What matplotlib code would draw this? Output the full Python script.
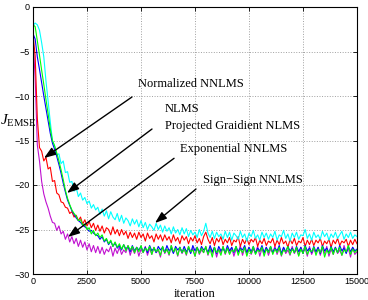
import matplotlib
matplotlib.use("Agg")
from matplotlib import pyplot as plt

# iteration grid, every 100 iterations
iters = list(range(0, 15001, 100))

# Sign-Sign NNLMS (cyan)
sign_sign = [
    -2.1, -1.8, -2.0, -2.6, -4.0, -5.6, -8.3, -10.6, -12.9, -15.0,
    -15.6, -16.6, -16.5, -17.6, -17.3, -18.6, -18.5, -19.7, -19.6, -20.7,
    -20.3, -21.3, -20.9, -21.7, -21.4, -22.1, -21.8, -22.6, -22.2, -22.8,
    -22.5, -23.3, -22.7, -23.5, -22.9, -23.8, -23.0, -23.6, -23.9, -23.2,
    -24.1, -23.4, -24.3, -23.7, -24.0, -24.6, -23.8, -24.4, -23.9, -24.7,
    -24.0, -24.8, -24.2, -25.0, -24.4, -24.7, -25.1, -24.3, -25.0, -24.5,
    -25.3, -24.6, -25.2, -24.8, -25.5, -24.7, -25.4, -25.0, -25.6, -24.8,
    -25.5, -24.9, -25.8, -25.1, -25.6, -25.3, -25.9, -25.0, -25.7, -25.2,
    -24.3, -25.4, -25.9, -25.2, -26.0, -25.3, -25.8, -25.5, -26.1, -25.2,
    -25.9, -25.3, -26.2, -25.4, -25.7, -26.1, -25.2, -25.9, -25.5, -26.3,
    -25.4, -25.8, -25.1, -26.0, -25.6, -26.2, -25.3, -25.9, -25.4, -26.1,
    -25.5, -25.9, -25.2, -26.2, -25.6, -25.8, -25.1, -26.0, -25.5, -26.3,
    -25.4, -25.9, -25.3, -26.1, -25.6, -25.7, -25.0, -26.0, -25.5, -26.2,
    -25.3, -25.9, -25.6, -26.1, -25.2, -25.8, -25.4, -26.2, -25.5, -25.9,
    -25.3, -26.0, -25.6, -25.2, -26.1, -25.5, -25.9, -25.3, -26.0, -25.6,
    -25.8]

# Normalized NNLMS (red)
normalized = [
    -3.0, -5.5, -12.5, -15.8, -16.2, -17.3, -16.9, -18.2, -18.0, -19.6,
    -19.5, -20.9, -21.1, -21.9, -22.0, -22.5, -22.6, -23.2, -23.0, -23.6,
    -23.4, -24.0, -23.6, -24.4, -23.9, -24.6, -24.1, -24.8, -24.3, -25.1,
    -24.5, -25.2, -24.6, -25.4, -24.8, -25.0, -25.6, -24.7, -25.5, -25.0,
    -25.7, -25.0, -25.6, -25.2, -26.0, -25.3, -25.9, -25.4, -26.1, -25.3,
    -25.9, -25.5, -26.3, -25.4, -26.0, -25.7, -26.4, -25.5, -26.1, -25.6,
    -26.3, -25.6, -26.2, -25.8, -26.5, -25.6, -26.3, -25.9, -26.6, -25.7,
    -26.2, -25.8, -26.6, -25.9, -26.3, -25.7, -26.5, -26.0, -26.7, -25.8,
    -25.3, -26.1, -26.6, -25.9, -26.8, -26.0, -26.4, -25.8, -26.7, -26.1,
    -26.5, -25.9, -26.8, -26.2, -26.4, -25.8, -26.9, -26.1, -26.6, -26.0,
    -26.7, -26.1, -26.4, -25.9, -26.9, -26.2, -26.6, -26.0, -26.8, -26.3,
    -26.5, -26.0, -26.9, -26.2, -26.7, -25.9, -26.6, -26.3, -27.0, -26.1,
    -26.6, -26.0, -26.8, -26.3, -26.5, -25.9, -26.9, -26.2, -26.7, -26.1,
    -26.8, -26.2, -26.5, -26.0, -26.9, -26.3, -26.6, -26.1, -27.0, -26.2,
    -26.6, -26.0, -26.8, -26.3, -26.5, -26.1, -26.9, -26.2, -26.7, -26.1,
    -26.6]

# NLMS (blue)
nlms = [
    -3.0, -3.6, -5.6, -7.0, -8.5, -10.0, -11.4, -12.8, -14.2, -15.3,
    -16.0, -16.8, -17.7, -18.7, -19.8, -20.8, -21.7, -22.3, -22.9, -23.3,
    -23.7, -24.0, -24.2, -24.5, -24.7, -24.9, -25.2, -25.1, -25.4, -25.6,
    -25.7, -26.1, -25.8, -26.4, -26.1, -26.7, -26.3, -26.9, -26.5, -27.1,
    -26.8, -27.3, -26.7, -27.2, -26.9, -27.5, -26.8, -27.4, -27.0, -27.3,
    -26.9, -27.5, -27.0, -27.6, -26.8, -27.4, -27.1, -27.6, -26.9, -27.3,
    -27.0, -27.6, -26.8, -27.4, -27.1, -27.7, -26.9, -27.3, -27.0, -27.6,
    -26.9, -27.5, -27.1, -27.7, -26.8, -27.4, -27.0, -27.6, -26.9, -27.3,
    -27.1, -27.6, -26.8, -27.5, -27.0, -27.7, -26.9, -27.4, -27.1, -27.6,
    -26.8, -27.4, -27.0, -27.6, -26.9, -27.5, -27.1, -27.3, -26.8, -27.6,
    -27.0, -27.5, -26.9, -27.7, -27.1, -27.4, -26.8, -27.6, -27.0, -27.5,
    -26.9, -27.6, -27.1, -27.4, -26.8, -27.7, -27.0, -27.5, -26.9, -27.4,
    -27.1, -27.6, -26.9, -27.5, -27.0, -27.7, -26.8, -27.4, -27.1, -27.6,
    -26.9, -27.5, -27.0, -27.7, -26.8, -27.4, -27.1, -27.6, -26.9, -27.5,
    -27.0, -27.6, -26.8, -27.4, -27.1, -27.7, -26.9, -27.5, -27.0, -27.4,
    -27.2]

# Projected Gradient NLMS (green)
projected = [
    -2.0, -2.2, -3.8, -5.4, -7.1, -8.7, -10.4, -12.0, -13.7, -15.0,
    -15.6, -16.4, -17.3, -18.3, -19.4, -20.6, -21.5, -22.2, -22.8, -23.2,
    -23.5, -24.0, -23.9, -24.5, -24.4, -25.0, -24.8, -25.5, -25.1, -25.7,
    -25.4, -25.9, -25.6, -26.3, -26.0, -26.6, -26.2, -26.9, -26.4, -27.0,
    -26.6, -27.2, -26.7, -27.4, -26.8, -27.3, -26.9, -27.6, -27.0, -27.5,
    -26.8, -27.6, -27.1, -27.4, -26.9, -27.8, -27.0, -27.5, -27.2, -27.9,
    -26.9, -27.6, -27.2, -27.8, -26.8, -27.5, -27.1, -27.9, -27.0, -27.6,
    -27.2, -27.8, -26.9, -27.5, -27.3, -28.0, -27.0, -27.7, -27.1, -27.6,
    -26.9, -27.8, -27.2, -28.1, -27.0, -27.6, -27.3, -27.9, -26.9, -27.7,
    -27.1, -27.8, -27.3, -27.5, -26.9, -27.9, -27.2, -27.6, -27.0, -28.0,
    -27.2, -27.7, -26.9, -27.8, -27.3, -27.5, -27.0, -28.0, -27.2, -27.6,
    -26.9, -27.8, -27.2, -27.6, -27.0, -27.9, -27.3, -27.5, -26.9, -27.8,
    -27.2, -27.6, -27.0, -28.0, -27.2, -27.7, -26.9, -27.8, -27.3, -27.5,
    -27.0, -27.9, -27.2, -27.6, -26.9, -28.1, -27.3, -27.7, -27.0, -27.8,
    -27.1, -27.6, -27.0, -27.9, -27.3, -27.5, -26.8, -27.8, -27.2, -27.6,
    -27.3]

# Exponential NNLMS (magenta)
exponential = [
    -3.5, -8.0, -15.5, -17.3, -19.6, -21.0, -21.9, -22.6, -23.5, -24.2,
    -24.3, -25.1, -24.6, -25.5, -25.2, -26.1, -25.5, -26.4, -25.8, -26.6,
    -26.0, -26.9, -26.2, -27.0, -26.4, -27.3, -26.6, -27.5, -26.8, -27.6,
    -26.9, -27.7, -27.0, -27.8, -27.2, -27.5, -26.9, -28.0, -27.1, -27.7,
    -27.0, -27.8, -27.3, -27.6, -26.8, -27.9, -27.1, -27.7, -27.0, -28.0,
    -27.2, -27.6, -26.9, -27.9, -27.1, -27.8, -27.0, -27.6, -27.3, -28.1,
    -26.9, -27.7, -27.2, -27.9, -26.8, -27.6, -27.1, -28.0, -27.0, -27.7,
    -27.2, -27.9, -26.9, -27.6, -27.1, -28.0, -27.0, -27.8, -27.3, -27.6,
    -26.9, -27.9, -27.1, -27.7, -27.0, -28.1, -27.2, -27.6, -26.9, -27.8,
    -27.1, -27.7, -27.0, -28.0, -27.2, -27.6, -26.8, -27.9, -27.1, -27.7,
    -27.0, -27.8, -27.2, -27.6, -26.9, -28.0, -27.1, -27.7, -27.0, -27.9,
    -27.2, -27.6, -26.9, -27.8, -27.1, -28.0, -27.0, -27.7, -27.3, -27.9,
    -26.9, -27.7, -27.2, -27.9, -27.0, -27.6, -27.1, -28.0, -26.9, -27.8,
    -27.2, -27.6, -27.0, -27.9, -27.1, -27.7, -26.9, -28.0, -27.2, -27.8,
    -27.0, -27.7, -27.3, -27.9, -26.8, -27.6, -27.1, -28.1, -27.0, -27.8,
    -27.5]

xticks = [0, 2500, 5000, 7500, 10000, 12500, 15000]
yticks = [-30, -25, -20, -15, -10, -5, 0]

plt.rcParams['mathtext.fontset'] = 'custom'
plt.rcParams['mathtext.rm'] = 'Liberation Serif'
plt.rcParams['mathtext.it'] = 'Liberation Serif:italic'

fig = plt.figure(figsize=(3.68, 3.0), dpi=100)
ax = fig.add_axes([33/368, 26/300, 324/368, 267/300])

ax.plot(iters, exponential, color="#c010d0", lw=0.8)
ax.plot(iters, normalized, color="#ff0000", lw=0.8)
ax.plot(iters, sign_sign, color="#00ffff", lw=0.8)
ax.plot(iters, nlms, color="#0000ff", lw=0.8)
ax.plot(iters, projected, color="#00ff00", lw=0.8)

ax.set_xlim(0, 15000)
ax.set_ylim(-30, 0)
ax.set_xticks(xticks)
ax.set_yticks(yticks)
ax.set_xticklabels([str(t) for t in xticks], fontfamily="Liberation Sans", fontsize=6.5)
ax.set_yticklabels([str(t).replace("-", "\u2212") for t in yticks], fontfamily="Liberation Sans", fontsize=6.5)
ax.tick_params(direction="in", top=True, right=True, length=3, width=0.6, pad=2.5)
ax.grid(color="#a0a0a0", linestyle=":", linewidth=0.7)
for s in ax.spines.values():
    s.set_linewidth(0.8)

ax.set_xlabel("iteration", fontfamily="Liberation Serif", fontsize=9, labelpad=1)
fig.text(0.0, 1 - 121/300, r"$J_{\rm EMSE}$", fontsize=11, ha="left", va="center")

# annotations
serif = dict(fontfamily="Liberation Serif", fontsize=9, va="center", ha="left")
ax.text(4861, -8.65, "Normalized NNLMS", **serif)
ax.text(6111, -11.46, "NLMS", **serif)
ax.text(6111, -13.37, "Projected Graidient NLMS", **serif)
ax.text(6806, -15.95, "Exponential NNLMS", **serif)
ax.text(7870, -19.4, "Sign\u2212Sign NNLMS", **serif)

arrow = dict(arrowstyle="-|>,head_length=0.7,head_width=0.25", color="k", lw=1.0,
             shrinkA=0, shrinkB=0)
ax.annotate("", xy=(509, -16.97), xytext=(4583, -10.11), arrowprops=arrow)
ax.annotate("", xy=(1574, -20.9), xytext=(5509, -13.71), arrowprops=arrow)
ax.annotate("", xy=(1620, -25.84), xytext=(6530, -17.0), arrowprops=arrow)
ax.annotate("", xy=(5648, -24.27), xytext=(7546, -20.45), arrowprops=arrow)

plt.savefig("out.png", dpi=100)
